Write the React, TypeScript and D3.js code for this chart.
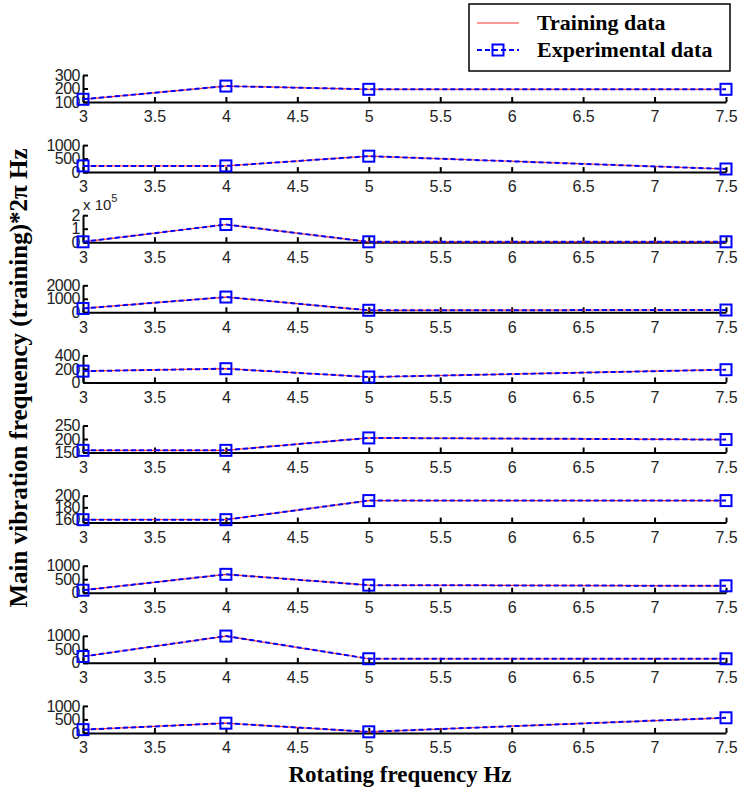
import React, { useEffect, useRef } from 'react';
import * as d3 from 'd3';

// rotating frequency (Hz) where samples were taken
const rotFreq = [3, 4, 5, 7.5];
const xTicks = [3, 3.5, 4, 4.5, 5, 5.5, 6, 6.5, 7, 7.5];

const mode1 = [120, 218, 194, 194];
const mode2 = [230, 230, 590, 115];
const mode3 = [3000, 131000, 3000, 3000];
const mode4 = [285, 1130, 150, 170];
const mode5 = [167, 203, 80, 188];
const mode6 = [158, 158, 204, 198];
const mode7 = [159, 159, 191.5, 191.5];
const mode8 = [92, 680, 280, 255];
const mode9 = [233, 990, 150, 150];
const mode10 = [120, 360, 40, 560];

// training output overlays the experimental data in every subplot
const training = [mode1, mode2, mode3, mode4, mode5, mode6, mode7, mode8, mode9, mode10];
const experimental = [mode1, mode2, mode3, mode4, mode5, mode6, mode7, mode8, mode9, mode10];

const yDomains = [
  [100, 300], [0, 1000], [0, 200000], [0, 2000], [0, 400],
  [150, 250], [154, 200], [0, 1000], [0, 1000], [0, 1000],
];
const yTicks = [
  [100, 200, 300], [0, 500, 1000], [0, 100000, 200000], [0, 1000, 2000], [0, 200, 400],
  [150, 200, 250], [160, 180, 200], [0, 500, 1000], [0, 500, 1000], [0, 500, 1000],
];

const W = 738, H = 792;

const App = () => {
  const ref = useRef(null);

  useEffect(() => {
    const svg = d3.select(ref.current);
    svg.selectAll('*').remove();

    const x = d3.scaleLinear().domain([3, 7.5]).range([83, 726]);
    const firstBase = 102, step = 70.1, ph = 27;

    experimental.forEach((exp, i) => {
      const base = firstBase + i * step;
      const y = d3.scaleLinear().domain(yDomains[i]).range([base, base - ph]);
      const g = svg.append('g');
      const sci = i === 2;

      // x axis
      const xAxis = d3.axisBottom(x).tickValues(xTicks).tickSizeInner(-5).tickSizeOuter(0)
        .tickFormat(d3.format('~g'));
      const gx = g.append('g').attr('transform', `translate(0,${base})`).call(xAxis);
      gx.select('.domain').attr('stroke', '#000').attr('stroke-width', 2);
      gx.selectAll('.tick line').attr('stroke', '#000').attr('stroke-width', 2);
      gx.selectAll('.tick text')
        .attr('y', 9)
        .attr('font-family', 'Liberation Sans, Arial, sans-serif')
        .attr('font-size', 16)
        .attr('fill', '#222');

      // y axis
      const yAxis = d3.axisLeft(y).tickValues(yTicks[i]).tickSizeInner(-5).tickSizeOuter(0)
        .tickFormat(d => sci ? d3.format('~g')(d / 1e5) : d3.format('~g')(d));
      const gy = g.append('g').attr('transform', `translate(${x(3)},0)`).call(yAxis);
      gy.select('.domain').attr('stroke', '#000').attr('stroke-width', 2);
      gy.selectAll('.tick line').attr('stroke', '#000').attr('stroke-width', 2);
      gy.selectAll('.tick text')
        .attr('x', -3)
        .attr('font-family', 'Liberation Sans, Arial, sans-serif')
        .attr('font-size', 16)
        .attr('letter-spacing', -0.5)
        .attr('fill', '#222');

      if (sci) {
        const t = g.append('text')
          .attr('x', x(3))
          .attr('y', base - ph - 5)
          .attr('font-family', 'Liberation Sans, Arial, sans-serif')
          .attr('font-size', 15)
          .attr('fill', '#222');
        t.append('tspan').text('x 10');
        t.append('tspan').attr('dy', -8).attr('font-size', 11).text('5');
      }

      const line = d3.line().x((d, k) => x(rotFreq[k])).y(d => y(d));

      g.append('path')
        .datum(training[i])
        .attr('d', line)
        .attr('fill', 'none')
        .attr('stroke', '#ff3030')
        .attr('stroke-width', 1.2);

      g.append('path')
        .datum(exp)
        .attr('d', line)
        .attr('fill', 'none')
        .attr('stroke', '#0000ff')
        .attr('stroke-width', 2)
        .attr('stroke-dasharray', '5,3');

      g.selectAll('rect.mk')
        .data(exp)
        .enter()
        .append('rect')
        .attr('class', 'mk')
        .attr('x', (d, k) => x(rotFreq[k]) - 5.5)
        .attr('y', d => y(d) - 5.5)
        .attr('width', 11)
        .attr('height', 11)
        .attr('fill', 'none')
        .attr('stroke', '#0000ff')
        .attr('stroke-width', 2);
    });

    // axis titles
    svg.append('text')
      .attr('x', 400)
      .attr('y', 782)
      .attr('text-anchor', 'middle')
      .attr('font-family', 'Liberation Serif, Times New Roman, serif')
      .attr('font-weight', 'bold')
      .attr('font-size', 23)
      .text('Rotating frequency Hz');

    svg.append('text')
      .attr('transform', 'translate(27,378) rotate(-90)')
      .attr('text-anchor', 'middle')
      .attr('font-family', 'Liberation Serif, Times New Roman, serif')
      .attr('font-weight', 'bold')
      .attr('font-size', 25)
      .text('Main vibration frequency (training)*2\u03C0 Hz');

    // legend
    const lg = svg.append('g');
    lg.append('rect')
      .attr('x', 469).attr('y', 4).attr('width', 261).attr('height', 67)
      .attr('fill', '#fff').attr('stroke', '#000').attr('stroke-width', 1.5);
    lg.append('line')
      .attr('x1', 477).attr('x2', 519).attr('y1', 23).attr('y2', 23)
      .attr('stroke', '#ff3030').attr('stroke-width', 1.2);
    lg.append('line')
      .attr('x1', 477).attr('x2', 519).attr('y1', 50).attr('y2', 50)
      .attr('stroke', '#0000ff').attr('stroke-width', 2).attr('stroke-dasharray', '5,3');
    lg.append('rect')
      .attr('x', 492.5).attr('y', 44.5).attr('width', 11).attr('height', 11)
      .attr('fill', 'none').attr('stroke', '#0000ff').attr('stroke-width', 2);
    const legendText = ['Training data', 'Experimental data'];
    lg.selectAll('text.lt')
      .data(legendText)
      .enter()
      .append('text')
      .attr('class', 'lt')
      .attr('x', 537)
      .attr('y', (d, k) => 30 + k * 27)
      .attr('font-family', 'Liberation Serif, Times New Roman, serif')
      .attr('font-weight', 'bold')
      .attr('font-size', 22)
      .text(d => d);
  }, []);

  return (
    <svg
      ref={ref}
      width={W}
      height={H}
      style={{ position: 'absolute', left: 0, top: 0, background: '#fff' }}
    />
  );
};

export default App;
